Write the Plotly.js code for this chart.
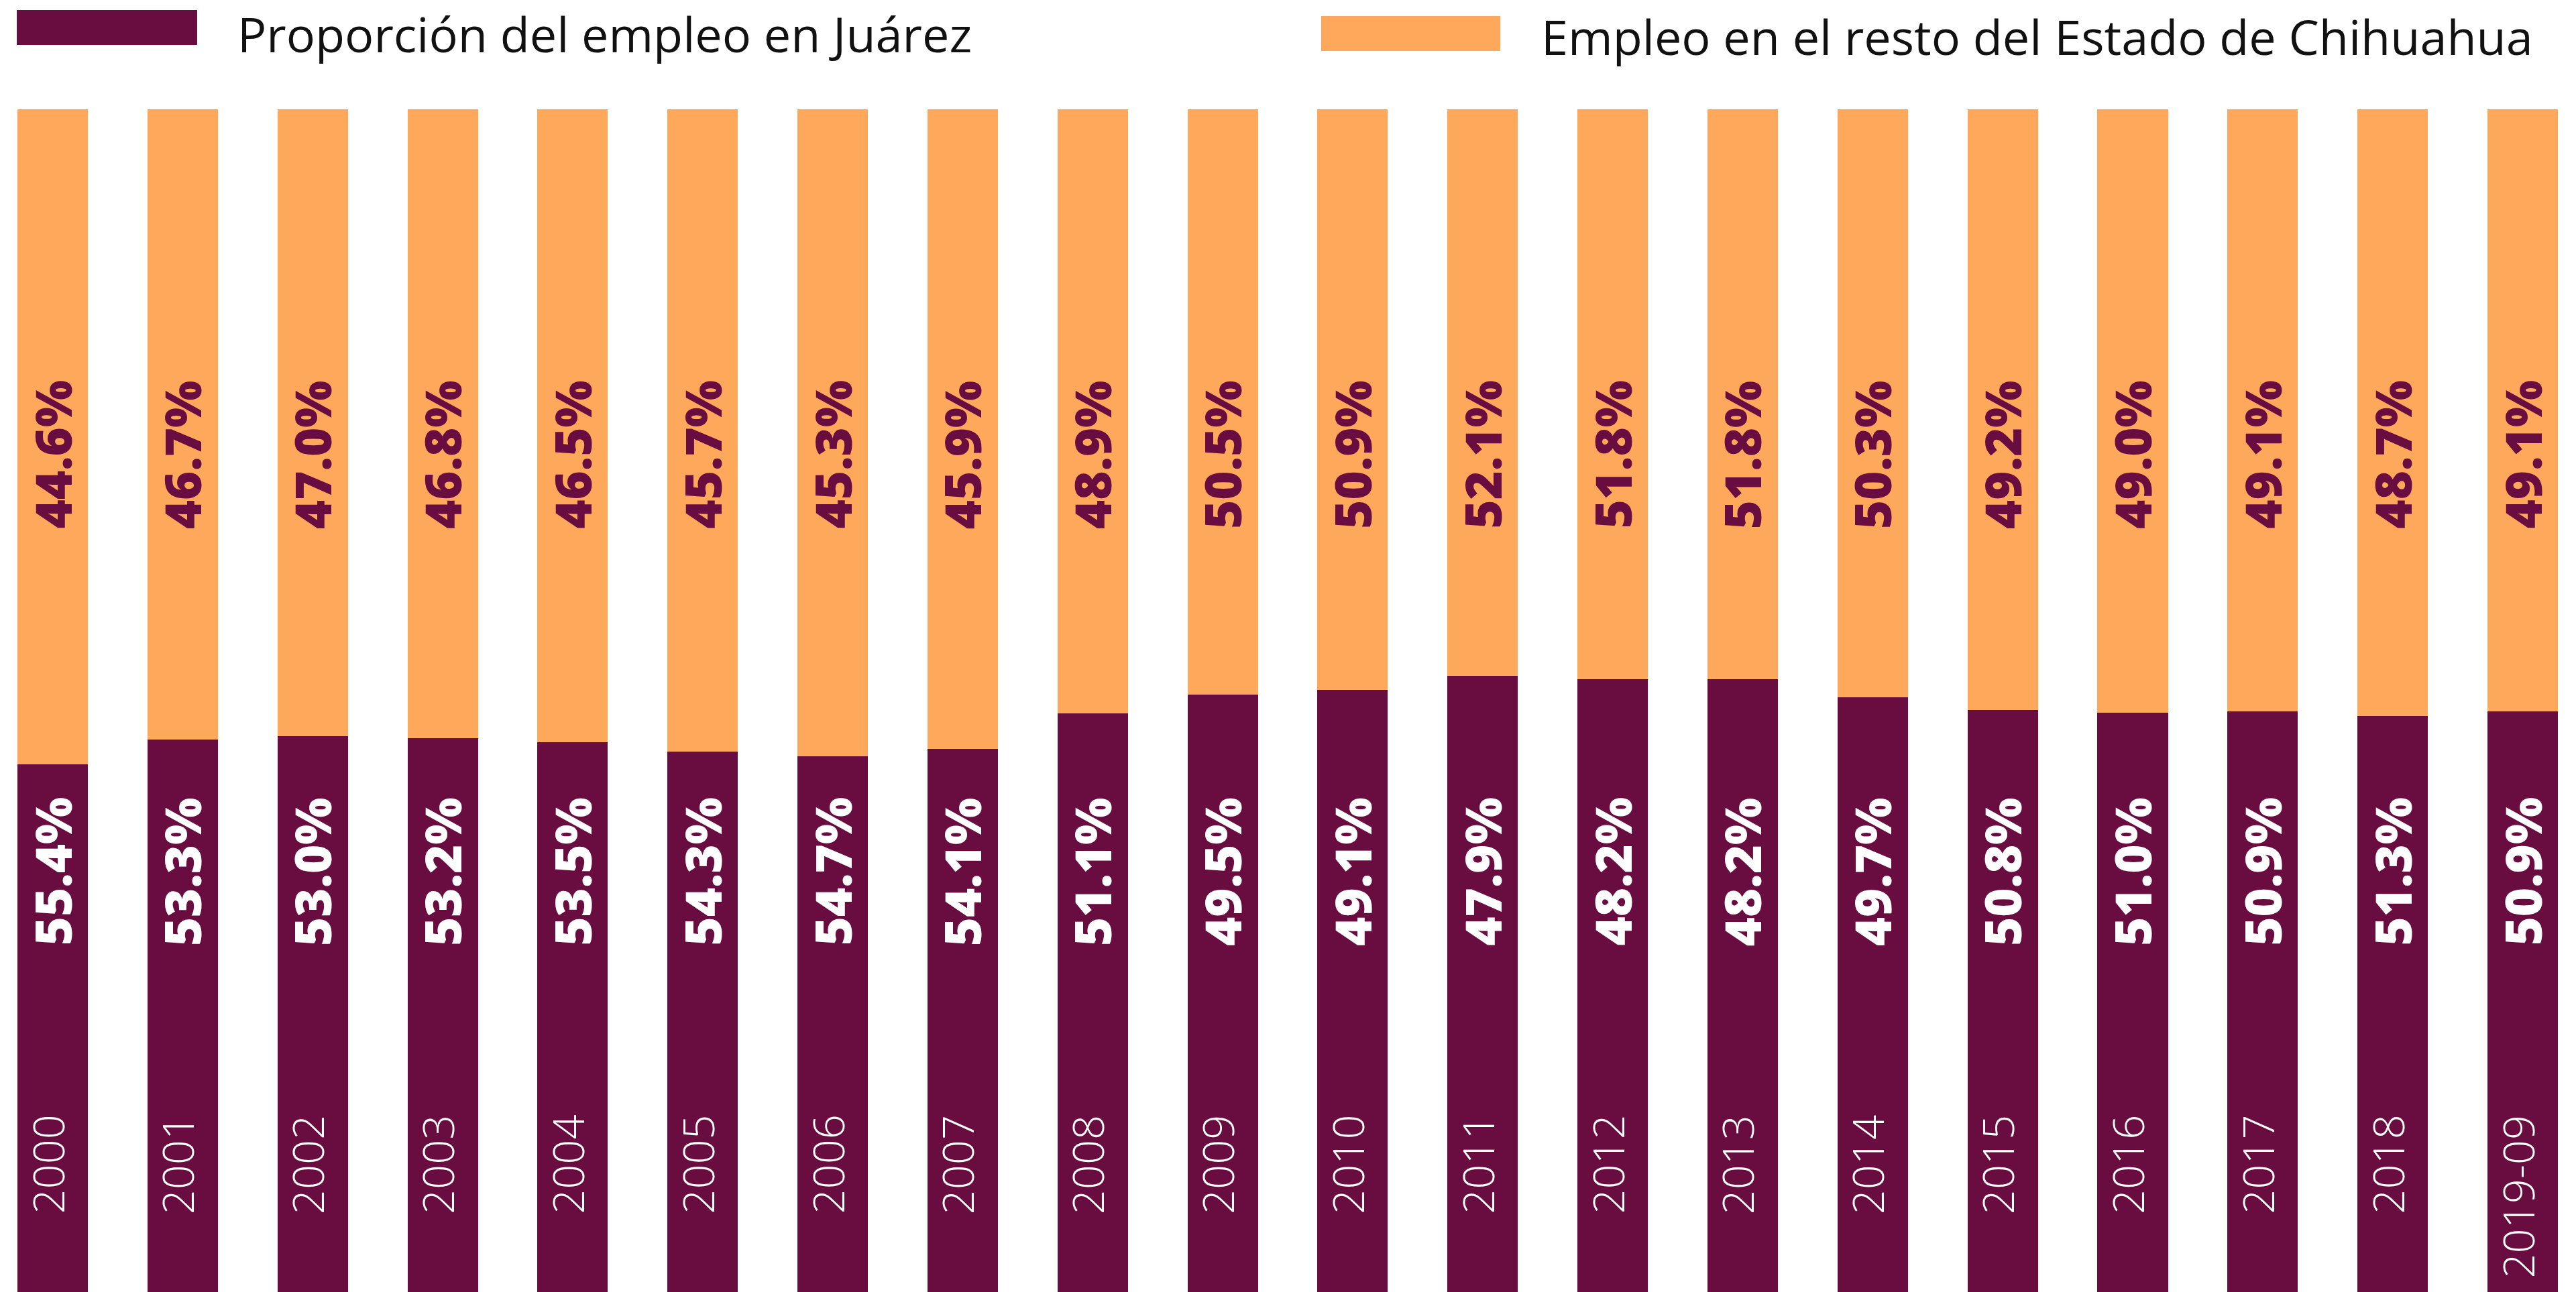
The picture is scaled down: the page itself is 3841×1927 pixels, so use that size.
<!DOCTYPE html>
<html>
<head>
<meta charset="utf-8">
<script src="https://cdn.plot.ly/plotly-3.0.1.min.js"></script>
<style>html,body{margin:0;padding:0;background:#fff;}#chart{width:3841px;height:1927px;}</style>
</head>
<body>
<div id="chart"></div>
<script>
// Categories
const years = ['2000','2001','2002','2003','2004','2005','2006','2007','2008','2009',
               '2010','2011','2012','2013','2014','2015','2016','2017','2018','2019-09'];
// Labelled values
const juarez = [55.4,53.3,53.0,53.2,53.5,54.3,54.7,54.1,51.1,49.5,49.1,47.9,48.2,48.2,49.7,50.8,51.0,50.9,51.3,50.9];
const resto  = [44.6,46.7,47.0,46.8,46.5,45.7,45.3,45.9,48.9,50.5,50.9,52.1,51.8,51.8,50.3,49.2,49.0,49.1,48.7,49.1];
// Legend names
const seriesNames = ['Proporción del empleo en Juárez', 'Empleo en el resto del Estado de Chihuahua'];

const PURPLE = '#690c3f';
const ORANGE = '#fea85c';
const FONT = '"Open Sans", "Liberation Sans", sans-serif';

// Note: in the reference the segment heights are drawn swapped relative to their labels
// (purple segment height follows the "resto" share, orange follows the Juárez share).
const traces = [
  {type:'bar', x: years, y: resto, name: seriesNames[0], marker:{color: PURPLE, line:{width:0}}, hoverinfo:'skip'},
  {type:'bar', x: years, y: juarez, name: seriesNames[1], marker:{color: ORANGE, line:{width:0}}, hoverinfo:'skip'}
];

const W = 3841, H = 1927, T = 163;
const px2paperY = p => (H - p) / (H - T);
const px2paperX = p => p / W;

const annotations = [];
years.forEach((yr, i) => {
  // category axis: use the category index so numeric-looking names are not read as numbers
  annotations.push({x: i, xref:'x', y: 0.644, yref:'paper', yanchor:'bottom', xanchor:'center',
    text: resto[i].toFixed(1) + '%', textangle: -90, showarrow:false,
    font:{family: FONT, size: 74, color: PURPLE, weight: 800}});
  annotations.push({x: i, xref:'x', y: 0.2914, yref:'paper', yanchor:'bottom', xanchor:'center',
    text: juarez[i].toFixed(1) + '%', textangle: -90, showarrow:false,
    font:{family: FONT, size: 74, color: '#ffffff', weight: 800}});
  annotations.push({x: i, xref:'x', y: 0.1508, yref:'paper', yanchor:'top', xanchor:'center',
    xshift: -8,
    text: yr, textangle: -90, showarrow:false,
    font:{family: FONT, size: 65, color: '#ffffff', weight: 300}});
});

// Custom legend
annotations.push({x: px2paperX(352), xref:'paper', y: px2paperY(50), yref:'paper', xanchor:'left', yanchor:'middle',
  text: seriesNames[0], showarrow:false, font:{family: FONT, size: 72, color:'#111111', weight: 400}});
annotations.push({x: px2paperX(2296), xref:'paper', y: px2paperY(54), yref:'paper', xanchor:'left', yanchor:'middle',
  text: seriesNames[1], showarrow:false, font:{family: FONT, size: 72, color:'#111111', weight: 400}});

const shapes = [
  {type:'rect', xref:'paper', yref:'paper', x0: px2paperX(25), x1: px2paperX(294), y0: px2paperY(67), y1: px2paperY(15),
   fillcolor: PURPLE, line:{width:0}},
  {type:'rect', xref:'paper', yref:'paper', x0: px2paperX(1970), x1: px2paperX(2237), y0: px2paperY(76), y1: px2paperY(24),
   fillcolor: ORANGE, line:{width:0}}
];

const layout = {
  width: W, height: H,
  margin: {l:0, r:0, t:T, b:0, pad:0},
  paper_bgcolor:'#ffffff', plot_bgcolor:'#ffffff',
  barmode:'stack', bargap: 0.458,
  showlegend:false,
  xaxis:{type:'category', range:[-0.405, 19.41], showticklabels:false, showgrid:false, zeroline:false, showline:false, ticks:''},
  yaxis:{range:[0,100], showticklabels:false, showgrid:false, zeroline:false, showline:false, ticks:''},
  annotations: annotations,
  shapes: shapes,
  font:{family: FONT}
};

Plotly.newPlot('chart', traces, layout, {displayModeBar:false, staticPlot:true});
</script>
</body>
</html>
